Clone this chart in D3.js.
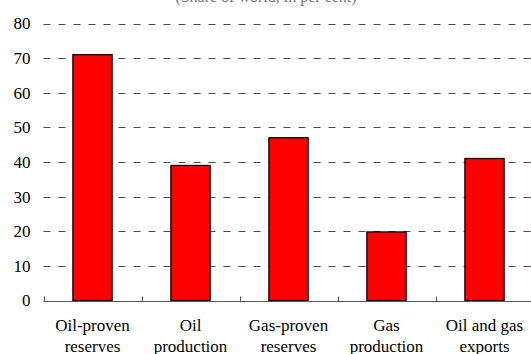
<!DOCTYPE html>
<html>
<head>
<meta charset="utf-8">
<script src="https://cdn.jsdelivr.net/npm/d3@7"></script>
<style>
  html, body { margin: 0; padding: 0; background: #fff; }
  svg { display: block; }
  text { font-family: "Liberation Serif", "Times New Roman", serif; }
</style>
</head>
<body>
<svg id="chart" width="531" height="354"></svg>
<script>
// Categories (two-line labels) and their shares, in per cent
const categories = [
  ["Oil-proven", "reserves"],
  ["Oil", "production"],
  ["Gas-proven", "reserves"],
  ["Gas", "production"],
  ["Oil and gas", "exports"]
];
const values = [71, 39, 47, 19.8, 41];
const yTicks = [0, 10, 20, 30, 40, 50, 60, 70, 80];
const subtitle = "(Share of world, in per cent)";

const svg = d3.select("#chart");
const margin = { left: 43.5, right: -2.5, top: 23.5, bottom: 53.5 };
const W = 531, H = 354;
const serif = "Liberation Serif, Times New Roman, serif";

const x = d3.scaleBand()
  .domain(d3.range(categories.length))
  .range([margin.left, W - margin.right])
  .padding(0);

const y = d3.scaleLinear()
  .domain([0, 80])
  .range([H - margin.bottom, margin.top]);

// Subtitle, mostly above the top edge
svg.append("text")
  .attr("x", 266)
  .attr("y", 1.5)
  .attr("text-anchor", "middle")
  .attr("font-family", serif)
  .attr("font-size", 16)
  .attr("fill", "#777")
  .text(subtitle);

// Dashed gridlines
svg.append("g")
  .selectAll("line")
  .data(yTicks.filter(d => d > 0))
  .join("line")
  .attr("x1", margin.left)
  .attr("x2", W)
  .attr("y1", d => Math.round(y(d)) + 0.5)
  .attr("y2", d => Math.round(y(d)) + 0.5)
  .attr("stroke", "#4a4a4a")
  .attr("stroke-width", 1)
  .attr("stroke-dasharray", "7,8");

// Y axis labels
const yAxis = d3.axisLeft(y).tickValues(yTicks).tickSize(0).tickPadding(13);
const gy = svg.append("g")
  .attr("transform", `translate(${margin.left},0)`)
  .call(yAxis);
gy.select(".domain").remove();
gy.selectAll("text")
  .attr("font-family", serif)
  .attr("font-size", 17)
  .attr("fill", "#000");

// Bars
const barW = x.bandwidth() * 0.4;
svg.append("g")
  .selectAll("rect")
  .data(values)
  .join("rect")
  .attr("x", (d, i) => x(i) + (x.bandwidth() - barW) / 2)
  .attr("y", d => y(d))
  .attr("width", barW)
  .attr("height", d => y(0) - y(d))
  .attr("fill", "#ff0000")
  .attr("stroke", "#000")
  .attr("stroke-width", 1.3);

// X axis line with upward category ticks
const y0 = Math.round(y(0)) + 0.5;
svg.append("line")
  .attr("x1", margin.left)
  .attr("x2", W)
  .attr("y1", y0)
  .attr("y2", y0)
  .attr("stroke", "#555")
  .attr("stroke-width", 1);

svg.append("g")
  .selectAll("line")
  .data(d3.range(categories.length + 1))
  .join("line")
  .attr("x1", i => Math.round(margin.left + i * x.bandwidth()) + 0.5)
  .attr("x2", i => Math.round(margin.left + i * x.bandwidth()) + 0.5)
  .attr("y1", y0)
  .attr("y2", y0 - 5)
  .attr("stroke", "#555")
  .attr("stroke-width", 1);

// Category labels
const labels = svg.append("g")
  .selectAll("text")
  .data(categories)
  .join("text")
  .attr("text-anchor", "middle")
  .attr("font-family", serif)
  .attr("font-size", 17)
  .attr("fill", "#000")
  .attr("transform", (d, i) => `translate(${x(i) + x.bandwidth() / 2},0)`);
labels.selectAll("tspan")
  .data(d => d)
  .join("tspan")
  .attr("x", 0)
  .attr("y", (d, j) => 331 + j * 20.5)
  .text(d => d);
</script>
</body>
</html>
